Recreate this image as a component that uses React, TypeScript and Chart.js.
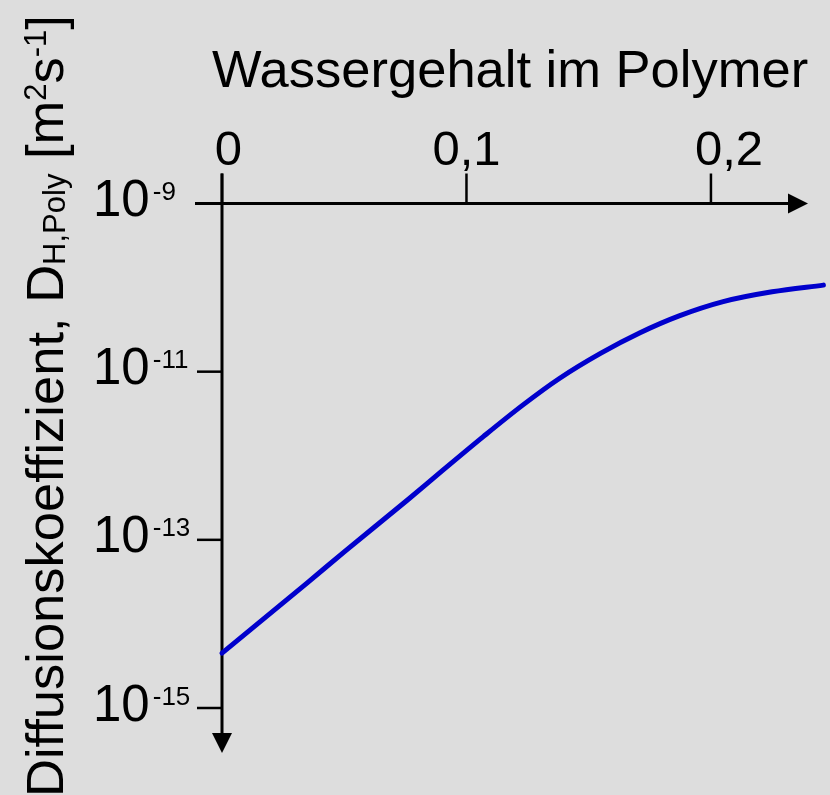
import { useEffect, useRef } from 'react';
import { Chart, registerables } from 'chart.js';

Chart.register(...registerables);

// ---- data ----
const waterContent = [0, 0.035, 0.05, 0.076, 0.09, 0.107, 0.123, 0.138, 0.155, 0.171, 0.187, 0.205, 0.225, 0.246];
const diffusionCoeff = [4.5e-15, 3.1e-14, 7.2e-14, 3.0e-13, 6.6e-13, 1.7e-12, 4.0e-12, 8.3e-12, 1.66e-11, 2.9e-11, 4.6e-11, 6.8e-11, 8.9e-11, 1.07e-10];
const xTickValues = [0, 0.1, 0.2];
const xTickLabels = ['0', '0,1', '0,2'];
const yTickExponents = [-9, -11, -13, -15];
const xTitle = 'Wassergehalt im Polymer';
const yTitleMain = 'Diffusionskoeffizient, D';
const yTitleSub = 'H,Poly';
const yTitleUnitA = ' [m';
const yTitleUnitSup1 = '2';
const yTitleUnitB = 's';
const yTitleUnitSup2 = '-1';
const yTitleUnitC = ']';

const X_MIN = 0;
const X_MAX = 0.2487;
const Y_MIN = 1e-15;
const Y_MAX = 1e-9;

// ---- styling ----
const FONT = '"Liberation Sans", Arial, Helvetica, sans-serif';
const LINE_COLOR = '#0000cc';
const BG = '#dddddd';
const xLabelNudge = [6.5, 0, 18];

type Run = { t: string; size: number; dy: number };

function drawRuns(ctx: CanvasRenderingContext2D, x: number, y: number, runs: Run[]) {
  let cx = x;
  for (const r of runs) {
    ctx.font = `${r.size}px ${FONT}`;
    ctx.fillText(r.t, cx, y + r.dy);
    cx += ctx.measureText(r.t).width;
  }
}

const axesPlugin = {
  id: 'customAxes',
  beforeDatasetsDraw(chart: any) {
    const ctx: CanvasRenderingContext2D = chart.ctx;
    const xs = chart.scales.x;
    const ys = chart.scales.y;
    const x0 = xs.getPixelForValue(0);
    const yTop = ys.getPixelForValue(Y_MAX);
    ctx.save();
    ctx.strokeStyle = '#000';
    ctx.fillStyle = '#000';
    ctx.lineCap = 'butt';

    // x axis line with arrow
    const xArrowTip = 808;
    ctx.lineWidth = 3;
    ctx.beginPath();
    ctx.moveTo(x0 - 27, yTop);
    ctx.lineTo(xArrowTip - 18, yTop);
    ctx.stroke();
    ctx.beginPath();
    ctx.moveTo(xArrowTip, yTop);
    ctx.lineTo(xArrowTip - 20, yTop - 10);
    ctx.lineTo(xArrowTip - 20, yTop + 10);
    ctx.closePath();
    ctx.fill();

    // y axis line with arrow
    const yArrowTip = 753;
    ctx.beginPath();
    ctx.moveTo(x0, yTop - 30);
    ctx.lineTo(x0, yArrowTip - 18);
    ctx.stroke();
    ctx.beginPath();
    ctx.moveTo(x0, yArrowTip);
    ctx.lineTo(x0 - 10, yArrowTip - 20);
    ctx.lineTo(x0 + 10, yArrowTip - 20);
    ctx.closePath();
    ctx.fill();

    // x ticks + labels
    ctx.lineWidth = 2.5;
    ctx.textBaseline = 'alphabetic';
    xTickValues.forEach((v, i) => {
      const px = xs.getPixelForValue(v);
      ctx.beginPath();
      ctx.moveTo(px, yTop - 30);
      ctx.lineTo(px, yTop);
      ctx.stroke();
      ctx.font = `49px ${FONT}`;
      ctx.textAlign = 'center';
      ctx.fillText(xTickLabels[i], px + xLabelNudge[i], yTop - 38.5);
    });

    // y ticks + labels
    ctx.textAlign = 'left';
    yTickExponents.forEach((e) => {
      const py = ys.getPixelForValue(Math.pow(10, e));
      ctx.beginPath();
      ctx.moveTo(x0 - 25, py);
      ctx.lineTo(x0, py);
      ctx.stroke();
      const base = py + 12.5;
      ctx.font = `51px ${FONT}`;
      ctx.fillText('10', x0 - 129, base);
      const w = ctx.measureText('10').width;
      ctx.font = `26px ${FONT}`;
      ctx.fillText(String(e), x0 - 129 + w + 3, base - 16);
    });

    // x title
    ctx.textAlign = 'left';
    ctx.font = `52.5px ${FONT}`;
    ctx.fillText(xTitle, 212, 87);

    // y title (rotated)
    ctx.save();
    ctx.translate(63, 797);
    ctx.rotate(-Math.PI / 2);
    drawRuns(ctx, 0, 0, [
      { t: yTitleMain, size: 52.5, dy: 0 },
      { t: yTitleSub, size: 31, dy: 2 },
      { t: yTitleUnitA, size: 52.5, dy: 0 },
      { t: yTitleUnitSup1, size: 31, dy: -17 },
      { t: yTitleUnitB, size: 52.5, dy: 0 },
      { t: yTitleUnitSup2, size: 31, dy: -17 },
      { t: yTitleUnitC, size: 52.5, dy: 0 },
    ]);
    ctx.restore();

    ctx.restore();
  },
};

export default function App() {
  const ref = useRef<HTMLCanvasElement>(null);
  useEffect(() => {
    const chart = new Chart(ref.current!, {
      type: 'line',
      data: {
        datasets: [
          {
            data: waterContent.map((x, i) => ({ x, y: diffusionCoeff[i] })),
            borderColor: LINE_COLOR,
            borderWidth: 5,
            pointRadius: 0,
            cubicInterpolationMode: 'monotone',
            borderCapStyle: 'round',
            borderJoinStyle: 'round',
            clip: false as any,
            fill: false,
          },
        ],
      },
      options: {
        responsive: false,
        animation: false,
        events: [],
        layout: { padding: { left: 222, right: 0, top: 203.5, bottom: 87 } },
        plugins: { legend: { display: false }, tooltip: { enabled: false } },
        scales: {
          x: { type: 'linear', min: X_MIN, max: X_MAX, display: false },
          y: { type: 'logarithmic', min: Y_MIN, max: Y_MAX, display: false },
        },
      },
      plugins: [axesPlugin],
    });
    return () => chart.destroy();
  }, []);
  return (
    <div style={{ position: 'fixed', left: 0, top: 0, width: 830, height: 795, background: BG }}>
      <canvas ref={ref} width={830} height={795} style={{ display: 'block' }} />
    </div>
  );
}
